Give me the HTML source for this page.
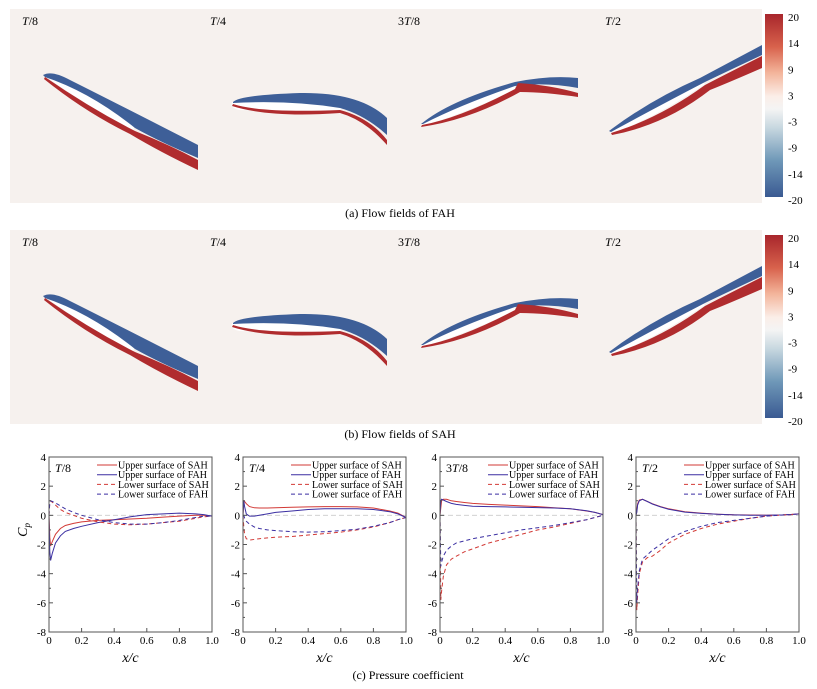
<!DOCTYPE html>
<html><head><meta charset="utf-8"><style>
body{margin:0;background:#fff;width:817px;height:689px;overflow:hidden;font-family:"Liberation Serif",serif}
svg{display:block}
</style></head><body>
<svg id="fig" width="817" height="689" viewBox="0 0 817 689" xmlns="http://www.w3.org/2000/svg" font-family="Liberation Serif, serif">
<defs>
<linearGradient id="cb" x1="0" y1="0" x2="0" y2="1">
<stop offset="0" stop-color="#a8262c"/><stop offset="0.18" stop-color="#d8624c"/><stop offset="0.32" stop-color="#f3b49a"/><stop offset="0.45" stop-color="#fbeee8"/><stop offset="0.52" stop-color="#f4f4f4"/><stop offset="0.62" stop-color="#c8d8e0"/><stop offset="0.8" stop-color="#6f98b8"/><stop offset="1" stop-color="#3a5a92"/>
</linearGradient>
<g id="foils">
<path fill="#fff" d="M45,76 Q90,85 135,123 L133,131 Q90,108 45,76 Z"/>
<path fill="#3e5f98" d="M43,75 Q52,70 70,80 Q110,100 198,145 L198,158 Q160,142 135,128 Q90,92 45,77 Z"/>
<path fill="#b02c2e" d="M45,77 Q90,108 135,131 Q170,145 198,160 L198,170 Q160,152 130,134 Q85,112 44,79 Z"/>
<path fill="#fff" d="M232,103 Q235,97 290,97 L340,100 Q345,108 340,110 Q290,112 240,110 Q230,108 232,103 Z"/>
<path fill="#3e5f98" d="M233,102 Q240,95 300,93 Q360,92 387,118 L387,135 Q365,115 340,108 Q290,100 233,103 Z"/>
<path fill="#b02c2e" d="M233,104 Q260,113 340,110 Q370,118 387,140 L387,145 Q365,120 340,113 Q270,118 232,106 Z"/>
<path fill="#fff" d="M422,124 Q450,105 515,85 L515,90 Q460,115 422,126 Z"/>
<path fill="#3e5f98" d="M421,124 Q450,100 515,82 Q550,75 578,78 L578,88 Q545,82 515,86 Q460,105 423,124 Z"/>
<path fill="#b02c2e" d="M422,125 Q460,118 515,89 L518,83 Q550,85 578,93 L578,97 Q545,92 520,92 Q470,120 421,127 Z"/>
<path fill="#fff" d="M610,132 Q650,105 700,80 L705,84 Q660,115 612,134 Z"/>
<path fill="#3e5f98" d="M609,131 Q650,100 700,78 Q730,62 762,45 L762,55 Q730,70 705,82 Q655,108 611,132 Z"/>
<path fill="#b02c2e" d="M611,133 Q660,118 705,85 Q730,72 762,56 L762,68 Q730,82 710,90 Q665,125 612,135 Z"/>
</g>
</defs>
<g id="fields"></g>
<g id="charts"></g>
<text x="408" y="679" font-size="12" text-anchor="middle">(c) Pressure coefficient</text>
</svg>
<script>
const panelOffsets = [0, 221];
const panelCaptions = ["(a) Flow fields of FAH", "(b) Flow fields of SAH"];
const phaseLabels = ["T/8", "T/4", "3T/8", "T/2"];
const cbTicks = ["20", "14", "9", "3", "-3", "-9", "-14", "-20"];
const NS = "http://www.w3.org/2000/svg";
function mk(tag, attrs, parent) { const e = document.createElementNS(NS, tag); for (const k in attrs) e.setAttribute(k, attrs[k]); parent.appendChild(e); return e; }
const fields = document.getElementById('fields');
const labelX = [22, 210, 398, 605];
panelOffsets.forEach((off, pi) => {
  const g = mk('g', {transform: 'translate(0,' + off + ')'}, fields);
  
  
  mk('rect', {x: 10, y: 9, width: 752, height: 194, fill: '#f6f1ee'}, g);
  mk('use', {href: '#foils'}, g);
  phaseLabels.forEach((p, i) => {
    const t = mk('text', {x: labelX[i], y: 25, 'font-size': 12}, g);
    
    
    t.innerHTML = p.replace('T', '<tspan font-style="italic">T</tspan>');
  });
  const cb = mk('rect', {x: 765, y: 14, width: 18, height: 183, fill: 'url(#cb)'}, g);
  
  
  cbTicks.forEach((v, i) => {
    const t = mk('text', {x: 788, y: 21 + i * 183 / 7, 'font-size': 11}, g);
    
    
    t.textContent = v;
  });
  const c = mk('text', {x: 400, y: 217, 'font-size': 12, 'text-anchor': 'middle'}, g);
  
  
  c.textContent = panelCaptions[pi];
});

const xs = [0,0.005,0.01,0.02,0.04,0.07,0.1,0.15,0.2,0.3,0.4,0.5,0.6,0.7,0.8,0.9,0.95,1.0];
const xTicks = ["0","0.2","0.4","0.6","0.8","1.0"];
const yTicks = [4,2,0,-2,-4,-6,-8];
const chartTitles = ["T/8","T/4","3T/8","T/2"];
const upperSAH = [
 [0,-1.5,-2.1,-1.8,-1.3,-0.9,-0.7,-0.55,-0.45,-0.35,-0.3,-0.25,-0.2,-0.12,-0.05,0.0,0.0,-0.05],
 [0,1.0,0.95,0.8,0.6,0.52,0.5,0.5,0.52,0.55,0.58,0.6,0.6,0.58,0.5,0.3,0.15,-0.15],
 [0,0.5,1.0,1.1,1.1,1.0,0.95,0.88,0.82,0.75,0.7,0.65,0.6,0.52,0.45,0.3,0.2,0.05],
 [0,0.3,0.8,1.05,1.1,0.95,0.8,0.6,0.45,0.25,0.15,0.08,0.04,0.02,0.01,0.03,0.06,0.1]];
const upperFAH = [
 [0,-2.5,-3.1,-2.6,-1.9,-1.4,-1.1,-0.9,-0.75,-0.5,-0.3,-0.1,0.05,0.1,0.15,0.1,0.05,-0.05],
 [0,1.0,0.6,0.1,-0.05,-0.05,0,0.1,0.2,0.3,0.4,0.45,0.45,0.45,0.4,0.25,0.1,-0.15],
 [0,1.0,1.1,1.05,0.95,0.82,0.75,0.68,0.62,0.6,0.58,0.55,0.53,0.5,0.45,0.32,0.2,0.05],
 [0,0.2,0.7,1.0,1.1,0.95,0.78,0.58,0.42,0.22,0.13,0.07,0.03,0.01,0.01,0.03,0.06,0.1]];
const lowerSAH = [
 [0,0.9,1.0,0.9,0.7,0.4,0.2,0,-0.2,-0.45,-0.6,-0.65,-0.6,-0.5,-0.4,-0.2,-0.1,-0.05],
 [0,-0.8,-1.3,-1.6,-1.7,-1.65,-1.6,-1.55,-1.5,-1.45,-1.35,-1.25,-1.15,-1.0,-0.8,-0.5,-0.3,-0.15],
 [0,-5.8,-5.2,-4.2,-3.4,-3.0,-2.8,-2.5,-2.3,-1.9,-1.6,-1.3,-1.0,-0.8,-0.55,-0.3,-0.15,0],
 [0,-6.5,-5.5,-4.0,-3.2,-2.9,-2.8,-2.4,-1.9,-1.3,-0.9,-0.6,-0.4,-0.2,-0.05,0.02,0.05,0.1]];
const lowerFAH = [
 [0,0.9,1.0,0.95,0.85,0.65,0.45,0.2,0,-0.3,-0.5,-0.6,-0.6,-0.5,-0.35,-0.15,-0.05,-0.05],
 [0,0,-0.2,-0.4,-0.6,-0.8,-0.9,-1.0,-1.05,-1.12,-1.15,-1.12,-1.05,-0.95,-0.75,-0.5,-0.3,-0.15],
 [0,-3.5,-3.2,-2.8,-2.4,-2.1,-1.9,-1.75,-1.6,-1.4,-1.2,-1.0,-0.85,-0.7,-0.5,-0.3,-0.15,0],
 [0,-6.0,-5.0,-3.8,-3.0,-2.7,-2.4,-2.0,-1.6,-1.1,-0.75,-0.5,-0.35,-0.2,-0.05,0.02,0.05,0.1]];
const legendNames = ["Upper surface of SAH","Upper surface of FAH","Lower surface of SAH","Lower surface of FAH"];

const chartLefts = [49, 243, 440, 636];
const W = 163, TOP = 457, BOT = 632;
const charts = document.getElementById('charts');
const RED = '#d23a36', BLUE = '#3b2fa2';
const styles = [[RED,''],[BLUE,''],[RED,'4,3'],[BLUE,'4,3']];
chartLefts.forEach((L, ci) => {
  const g = mk('g', {}, charts);
  
  
  const sx = v => L + v * W;
  const sy = v => TOP + (4 - v) / 12 * (BOT - TOP);
  mk('line', {x1: L, x2: L + W, y1: sy(0), y2: sy(0), stroke: '#ccc', 'stroke-width': 0.8, 'stroke-dasharray': '5,3'}, g);
  const series = [upperSAH[ci], upperFAH[ci], lowerSAH[ci], lowerFAH[ci]];
  series.forEach((s, si) => {
    const p = mk('path', {d: s.map((v, i) => (i ? 'L' : 'M') + sx(xs[i]).toFixed(1) + ',' + sy(v).toFixed(1)).join(' '), fill: 'none', stroke: styles[si][0], 'stroke-width': 1, 'stroke-dasharray': styles[si][1]}, g);
    
    
  });
  const fr = mk('rect', {x: L, y: TOP, width: W, height: BOT - TOP, fill: 'none', stroke: '#555', 'stroke-width': 1}, g);
  
  
  yTicks.forEach(v => {
    mk('line', {x1: L, x2: L + 4, y1: sy(v), y2: sy(v), stroke: '#555'}, g);
    if (v < 4) mk('line', {x1: L, x2: L + 2, y1: sy(v + 1), y2: sy(v + 1), stroke: '#555'}, g);
    const t = mk('text', {x: L - 3, y: sy(v) + 4, 'font-size': 11, 'text-anchor': 'end'}, g);
    
    
    t.textContent = v;
  });
  xTicks.forEach((v, i) => {
    const x = sx(i * 0.2);
    mk('line', {x1: x, x2: x, y1: BOT, y2: BOT - 4, stroke: '#555'}, g);
    const t = mk('text', {x: x, y: BOT + 12, 'font-size': 11, 'text-anchor': 'middle'}, g);
    
    
    t.textContent = v;
  });
  const xl = mk('text', {x: L + W / 2, y: BOT + 30, 'font-size': 14, 'text-anchor': 'middle', 'font-style': 'italic'}, g);
  
  
  xl.textContent = 'x/c';
  const tt = mk('text', {x: L + 6, y: TOP + 15, 'font-size': 12}, g);
  
  
  tt.innerHTML = chartTitles[ci].replace('T', '<tspan font-style="italic">T</tspan>');
  legendNames.forEach((n, li) => {
    const y = TOP + 8 + li * 9.7;
    mk('line', {x1: L + 48, x2: L + 68, y1: y, y2: y, stroke: styles[li][0], 'stroke-width': 1, 'stroke-dasharray': styles[li][1]}, g);
    const t = mk('text', {x: L + 69, y: y + 3.5, 'font-size': 10}, g);
    
    
    t.textContent = n;
  });
  if (ci === 0) {
    const yl = mk('text', {x: 0, y: 0, 'font-size': 14, 'font-style': 'italic', transform: 'translate(27,' + (sy(-1)) + ') rotate(-90)', 'text-anchor': 'middle'}, g);
    
    
    yl.innerHTML = 'C<tspan font-size="9" dy="3">p</tspan>';
  }
});
</script>
</body></html>
